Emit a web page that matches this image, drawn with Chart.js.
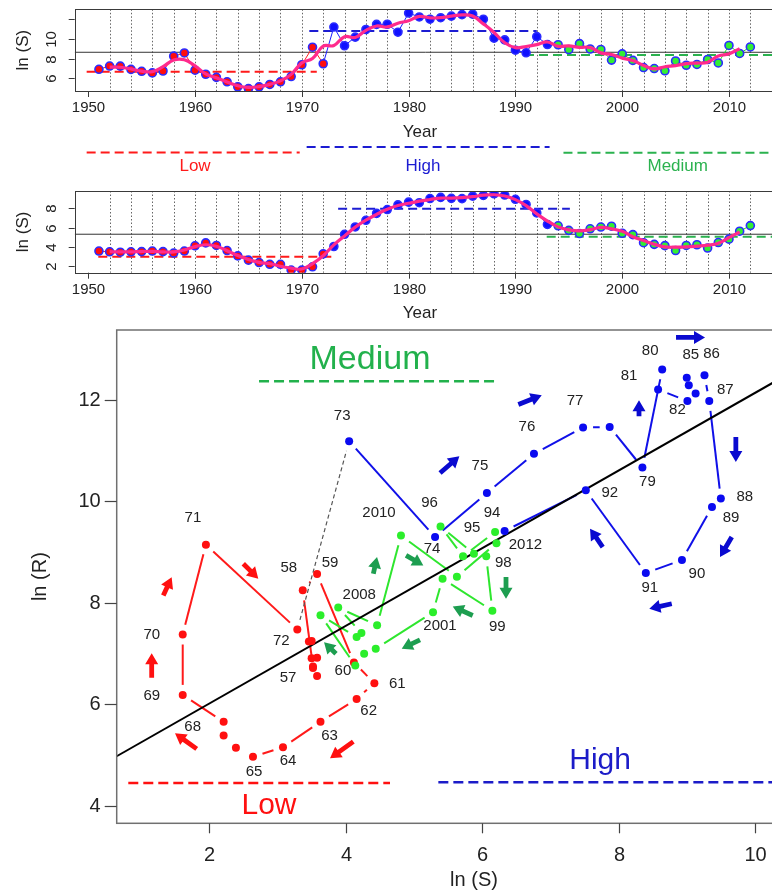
<!DOCTYPE html>
<html>
<head>
<meta charset="utf-8">
<script src="https://cdn.jsdelivr.net/npm/chart.js@4.4.1/dist/chart.umd.min.js"></script>
<style>
  html, body { margin: 0; padding: 0; background: #fff; overflow: hidden; width: 772px; height: 890px; }
  canvas { position: absolute; left: 0; }
</style>
</head>
<body>
<canvas id="recruits" width="800" height="178" style="top:0px"></canvas>
<canvas id="spawners" width="800" height="140" style="top:178px"></canvas>
<canvas id="phase" width="800" height="572" style="top:318px"></canvas>
<script>
// ---------------- data ----------------
const years = [1951,1952,1953,1954,1955,1956,1957,1958,1959,1960,
               1961,1962,1963,1964,1965,1966,1967,1968,1969,1970,
               1971,1972,1973,1974,1975,1976,1977,1978,1979,1980,
               1981,1982,1983,1984,1985,1986,1987,1988,1989,1990,
               1991,1992,1993,1994,1995,1996,1997,1998,1999,2000,
               2001,2002,2003,2004,2005,2006,2007,2008,2009,2010,
               2011,2012];

// ln of spawners
const lnS = [3.58,3.50,3.46,3.50,3.52,3.58,3.52,3.37,3.58,4.12,
             4.42,4.16,3.63,3.08,2.64,2.39,2.21,2.21,1.61,1.61,
             1.95,3.29,4.05,5.31,6.07,6.76,7.48,7.87,8.35,8.64,
             8.58,9.01,9.13,9.03,9.00,9.26,9.33,9.50,9.37,8.93,
             8.40,7.52,6.33,6.19,5.72,5.39,5.88,6.06,6.15,5.42,
             5.28,4.44,4.27,4.14,3.63,4.16,4.23,3.89,4.46,4.81,
             5.63,6.21];

// ln of recruits
const lnR = [6.91,7.24,7.23,6.90,6.71,6.55,6.74,8.24,8.56,6.82,
             6.41,6.10,5.65,5.15,4.96,5.14,5.38,5.65,6.18,7.37,
             9.14,7.47,11.18,9.29,10.16,10.93,11.45,11.46,10.66,12.59,
             12.20,11.97,12.12,12.28,12.43,12.48,11.97,10.05,9.88,8.84,
             8.58,10.21,9.41,9.39,8.91,9.50,8.96,8.91,7.84,8.47,
             7.81,7.09,6.99,6.76,7.75,7.32,7.40,7.90,7.55,9.32,
             8.51,9.17];

// smoothed trends (1952-2011)
const smoothYears = [1952,1953,1954,1955,1956,1957,1958,1959,1960,
                     1961,1962,1963,1964,1965,1966,1967,1968,1969,1970,
                     1971,1972,1973,1974,1975,1976,1977,1978,1979,1980,
                     1981,1982,1983,1984,1985,1986,1987,1988,1989,1990,
                     1991,1992,1993,1994,1995,1996,1997,1998,1999,2000,
                     2001,2002,2003,2004,2005,2006,2007,2008,2009,2010,2011];
const smoothR = [7.13,7.12,6.95,6.72,6.67,7.18,7.85,7.87,7.26,
                 6.44,6.05,5.63,5.25,5.08,5.16,5.39,5.74,6.40,7.56,
                 7.99,9.26,9.31,10.21,10.13,10.85,11.28,11.19,11.57,11.82,
                 12.25,12.10,12.12,12.28,12.40,12.29,11.50,10.63,9.59,9.10,
                 9.21,9.40,9.67,9.24,9.27,9.12,9.12,8.57,8.41,8.04,
                 7.79,7.30,6.95,7.17,7.28,7.49,7.54,7.62,8.26,8.46,9.00];
const smoothS = [3.51,3.49,3.49,3.53,3.54,3.49,3.49,3.69,4.04,
                 4.23,4.07,3.62,3.12,2.70,2.41,2.27,2.01,1.81,1.72,
                 2.28,3.10,4.22,5.14,6.05,6.77,7.37,7.90,8.29,8.52,
                 8.74,8.91,9.06,9.05,9.10,9.20,9.36,9.40,9.27,8.90,
                 8.28,7.42,6.68,6.08,5.77,5.66,5.78,6.03,5.88,5.62,
                 5.05,4.66,4.28,4.01,3.98,4.01,4.09,4.19,4.39,4.97,5.55];

// regimes: Low up to LOW_END, High up to HIGH_END, Medium afterwards
const LOW_END = 1972;
const HIGH_END = 1993;
const regimeMeanR = { low: 6.66, high: 10.78, medium: 8.35 };
const regimeMeanS = { low: 3.00, high: 7.95, medium: 5.07 };
const overallMeanR = 8.63;
const overallMeanS = 5.32;

// stock-recruit fit: ln(R) = a + b ln(S)
const fitA = 4.48;
const fitB = 0.765;

// year labels shown in the phase plot
const labelledYears = [1957,1958,1959,1960,1961,1962,1963,1964,1965,1968,1969,1970,1971,1972,
                       1973,1974,1975,1976,1977,1979,1980,1981,1982,1985,1986,1987,1988,1989,
                       1990,1991,1992,1994,1995,1996,1998,1999,2001,2008,2010,2012];

// tick values
const yearTicks = [1950,1960,1970,1980,1990,2000,2010];
const recruitTicks = [6,8,10,12];
const recruitTickLabels = [6,8,10];
const spawnerTicks = [2,4,6,8];
const phaseXTicks = [2,4,6,8,10];
const phaseYTicks = [4,6,8,10,12];

// ---------------- style & layout ----------------
const FONT = '"Liberation Sans", Arial, Helvetica, sans-serif';
const PINK = '#ff2a8c';
const POINT_FILL = { low: '#ff0d0d', high: '#1010ff', medium: '#33ee33' };
const LINE_COL = { low: '#ff2020', high: '#1a1aff', medium: '#22dd22' };
const DASH_COL = { low: '#ff1a1a', high: '#1c1cd2', medium: '#2bb24f' };
const PHASE_POINT = { low: '#ff1010', high: '#0a0af0', medium: '#2bee2b' };
const PHASE_LINE = { low: '#ff1a1a', high: '#1010e8', medium: '#2ee62e' };
const ARROW_COL = { low: '#ff1010', high: '#0a0ad0', medium: '#1d9e50' };
const TEXT_COL = '#222';

const YEAR_MIN = 1948.73, YEAR_MAX = 2014.45;

// extents (in years) of the dashed regime-mean segments
const recruitSpans = { low: [1949.85, 1971.4], high: [1970.7, 1992.0], medium: [1990.9, YEAR_MAX] };
const spawnerSpans = { low: [1950.94, 1972.94], high: [1973.4, 1995.1], medium: [1992.93, YEAR_MAX] };

// regime band between the two time-series panels
const bandLines = [
  { regime: 'low', from: 1949.85, to: 1969.8, y: 152.5, text: 'Low', at: 1960.0 },
  { regime: 'high', from: 1970.45, to: 1993.2, y: 147.0, text: 'High', at: 1981.35 },
  { regime: 'medium', from: 1994.5, to: YEAR_MAX, y: 152.7, text: 'Medium', at: 2005.2 }
];

// pixel offsets of year labels from their points
const labelOffsets = {
  1957: [-25, 11], 1958: [-14, -22], 1959: [13, -11], 1960: [-11, 8], 1961: [23, 1],
  1962: [12, 12], 1963: [9, 14], 1964: [5, 14], 1965: [1, 15], 1968: [-31, 5],
  1969: [-31, 1], 1970: [-31, 0], 1971: [-13, -27], 1972: [-16, 11], 1973: [-7, -25],
  1974: [-3, 12], 1975: [-7, -27], 1976: [-7, -27], 1977: [-8, -27], 1979: [5, 14],
  1980: [-12, -19], 1981: [-29, -14], 1982: [-10, 9], 1985: [4, -23], 1986: [7, -21],
  1987: [16, -11], 1988: [24, -2], 1989: [19, 11], 1990: [15, 14], 1991: [4, 15],
  1992: [24, 2], 1994: [-3, -19], 1995: [9, -28], 1996: [-11, -24], 1998: [17, 7],
  1999: [5, 16], 2001: [7, 14], 2008: [21, -13], 2010: [-22, -23], 2012: [29, 2]
};

// direction arrows in (ln S, ln R): tail -> head
const arrows = [
  { r: 'low', from: [1.325, 8.14], to: [1.448, 8.50] },
  { r: 'low', from: [1.155, 6.52], to: [1.155, 7.00] },
  { r: 'low', from: [2.498, 8.765], to: [2.718, 8.47] },
  { r: 'low', from: [1.815, 5.116], to: [1.497, 5.424] },
  { r: 'low', from: [4.111, 5.26], to: [3.77, 4.93] },
  { r: 'medium', from: [4.405, 8.568], to: [4.459, 8.895] },
  { r: 'medium', from: [4.884, 8.929], to: [5.138, 8.732] },
  { r: 'medium', from: [6.35, 8.501], to: [6.35, 8.075] },
  { r: 'medium', from: [5.862, 7.745], to: [5.569, 7.923] },
  { r: 'medium', from: [5.089, 7.266], to: [4.821, 7.089] },
  { r: 'medium', from: [3.857, 6.99], to: [3.682, 7.219] },
  { r: 'high', from: [8.843, 13.223], to: [9.268, 13.223] },
  { r: 'high', from: [6.531, 11.901], to: [6.874, 12.085] },
  { r: 'high', from: [5.383, 10.552], to: [5.666, 10.882] },
  { r: 'high', from: [8.30, 11.67], to: [8.30, 11.986] },
  { r: 'high', from: [9.72, 11.262], to: [9.72, 10.769] },
  { r: 'high', from: [9.66, 9.29], to: [9.488, 8.896] },
  { r: 'high', from: [7.768, 9.093], to: [7.582, 9.456] },
  { r: 'high', from: [8.78, 7.976], to: [8.451, 7.878] }
];

// regime legend marks inside the phase plot
const phaseLegend = [
  { r: 'medium', text: 'Medium', line: [2.729, 6.218, 12.36], textAt: [4.356, 12.78], size: 34, color: '#22b14c' },
  { r: 'low', text: 'Low', line: [0.812, 4.649, 4.446], textAt: [2.875, 4.0], size: 30, color: '#ff1010' },
  { r: 'high', text: 'High', line: [5.358, 10.6, 4.458], textAt: [7.73, 4.886], size: 30, color: '#1c1cc8' }
];

function regimeOf(yr) { return yr <= LOW_END ? 'low' : (yr <= HIGH_END ? 'high' : 'medium'); }

const baseOptions = (xMin, xMax, yMin, yMax, padding) => ({
  responsive: false,
  animation: false,
  events: [],
  layout: { padding },
  plugins: { legend: { display: false }, tooltip: { enabled: false } },
  scales: {
    x: { type: 'linear', display: false, min: xMin, max: xMax },
    y: { type: 'linear', display: false, min: yMin, max: yMax }
  }
});

function rotatedText(ctx, text, x, y) {
  ctx.save();
  ctx.translate(x, y);
  ctx.rotate(-Math.PI / 2);
  ctx.textAlign = 'center';
  ctx.textBaseline = 'middle';
  ctx.fillText(text, 0, 0);
  ctx.restore();
}

// ---------------- time-series panels ----------------
function seriesPanel(id, values, smooth, means, overall, spans, yMin, yMax, padding, yTicks, yLabels, drawBand) {
  const pts = years.map((y, i) => ({ x: y, y: values[i] }));
  const datasets = [
    { type: 'line', data: smoothYears.map((y, i) => ({ x: y, y: smooth[i] })),
      borderColor: PINK, borderWidth: 3.2, tension: 0.4, pointRadius: 0, order: 0 },
    { type: 'line', data: pts, borderWidth: 1,
      segment: { borderColor: c => LINE_COL[regimeOf(years[c.p1DataIndex])] },
      pointRadius: 4, pointBackgroundColor: years.map(y => POINT_FILL[regimeOf(y)]),
      pointBorderColor: '#2b2bff', pointBorderWidth: 1.6, order: 1 }
  ];
  ['low', 'high', 'medium'].forEach(r => {
    datasets.push({ type: 'line', data: [{ x: spans[r][0], y: means[r] }, { x: spans[r][1], y: means[r] }],
      borderColor: DASH_COL[r], borderWidth: 2, borderDash: [9, 5], pointRadius: 0, order: 2 });
  });
  datasets.push({ type: 'line', data: [{ x: YEAR_MIN, y: overall }, { x: YEAR_MAX, y: overall }],
    borderColor: '#333', borderWidth: 1, pointRadius: 0, order: 3 });

  const axes = {
    id: 'seriesAxes',
    beforeDatasetsDraw(chart) {
      const { ctx, chartArea: a, scales: { x } } = chart;
      ctx.save();
      ctx.strokeStyle = '#666';
      ctx.lineWidth = 1;
      ctx.setLineDash([1.5, 2]);
      for (let yr = 1952; yr <= 2012; yr += 2) {
        const px = Math.round(x.getPixelForValue(yr)) + 0.5;
        ctx.beginPath(); ctx.moveTo(px, a.top); ctx.lineTo(px, a.bottom); ctx.stroke();
      }
      ctx.restore();
    },
    afterDraw(chart) {
      const { ctx, chartArea: a, scales: { x, y } } = chart;
      ctx.save();
      ctx.strokeStyle = '#3a3a3a';
      ctx.lineWidth = 1;
      ctx.strokeRect(Math.round(a.left) + 0.5, Math.round(a.top) + 0.5, a.right - a.left, Math.round(a.bottom - a.top));
      ctx.fillStyle = '#222';
      ctx.font = '15px ' + FONT;
      ctx.textAlign = 'center';
      ctx.textBaseline = 'middle';
      yearTicks.forEach(t => {
        const px = Math.round(x.getPixelForValue(t)) + 0.5;
        ctx.beginPath(); ctx.moveTo(px, a.bottom); ctx.lineTo(px, a.bottom + 6); ctx.stroke();
        ctx.fillText(String(t), px, a.bottom + 17);
      });
      yTicks.forEach(t => {
        const py = Math.round(y.getPixelForValue(t)) + 0.5;
        ctx.beginPath(); ctx.moveTo(a.left - 6, py); ctx.lineTo(a.left, py); ctx.stroke();
        if (yLabels.includes(t)) rotatedText(ctx, String(t), a.left - 23, py);
      });
      ctx.font = '17px ' + FONT;
      rotatedText(ctx, 'ln (S)', 23, (a.top + a.bottom) / 2);
      ctx.fillText('Year', 420, a.bottom + 41);
      if (drawBand) {
        bandLines.forEach(b => {
          ctx.strokeStyle = DASH_COL[b.regime];
          ctx.lineWidth = 2;
          ctx.setLineDash([9, 5]);
          ctx.beginPath();
          ctx.moveTo(x.getPixelForValue(b.from), b.y);
          ctx.lineTo(x.getPixelForValue(b.to), b.y);
          ctx.stroke();
          ctx.setLineDash([]);
          ctx.fillStyle = DASH_COL[b.regime];
          ctx.font = '17px ' + FONT;
          ctx.fillText(b.text, x.getPixelForValue(b.at), 166);
        });
      }
      ctx.restore();
    }
  };

  return new Chart(document.getElementById(id), {
    type: 'line',
    data: { datasets },
    options: baseOptions(YEAR_MIN, YEAR_MAX, yMin, yMax, padding),
    plugins: [axes]
  });
}

seriesPanel('recruits', lnR, smoothR, regimeMeanR, overallMeanR, recruitSpans, 4.72, 12.97,
  { left: 74.7, top: 9.3, right: 23.5, bottom: 87 }, recruitTicks, recruitTickLabels, true);
seriesPanel('spawners', lnS, smoothS, regimeMeanS, overallMeanS, spawnerSpans, 1.34, 9.79,
  { left: 74.7, top: 13, right: 23.5, bottom: 45.3 }, spawnerTicks, spawnerTicks, false);

// ---------------- phase plot: ln(R) against ln(S) ----------------
const PX_MIN = 0.642, PX_MAX = 10.514, PY_MIN = 3.65, PY_MAX = 13.37;
const SEG_GAP = 10;

function drawArrow(ctx, x1, y1, x2, y2, color) {
  const dx = x2 - x1, dy = y2 - y1, L = Math.hypot(dx, dy);
  const ux = dx / L, uy = dy / L, nx = -uy, ny = ux;
  const head = 11, hw = 6.5, sw = 2.4;
  const bx = x2 - ux * head, by = y2 - uy * head;
  ctx.fillStyle = color;
  ctx.beginPath();
  ctx.moveTo(x1 + nx * sw, y1 + ny * sw);
  ctx.lineTo(bx + nx * sw, by + ny * sw);
  ctx.lineTo(bx + nx * hw, by + ny * hw);
  ctx.lineTo(x2, y2);
  ctx.lineTo(bx - nx * hw, by - ny * hw);
  ctx.lineTo(bx - nx * sw, by - ny * sw);
  ctx.lineTo(x1 - nx * sw, y1 - ny * sw);
  ctx.closePath();
  ctx.fill();
}

const phaseDecor = {
  id: 'phaseDecor',
  beforeDatasetsDraw(chart) {
    const { ctx, scales: { x, y } } = chart;
    ctx.save();
    ctx.lineCap = 'butt';
    for (let i = 0; i < years.length - 1; i++) {
      const a = years[i];
      if (a === HIGH_END) continue;
      const x1 = x.getPixelForValue(lnS[i]), y1 = y.getPixelForValue(lnR[i]);
      const x2 = x.getPixelForValue(lnS[i + 1]), y2 = y.getPixelForValue(lnR[i + 1]);
      const L = Math.hypot(x2 - x1, y2 - y1);
      if (L <= 2 * SEG_GAP) continue;
      const ux = (x2 - x1) / L, uy = (y2 - y1) / L;
      if (a === LOW_END) {
        ctx.strokeStyle = '#555'; ctx.lineWidth = 1.2; ctx.setLineDash([4, 3]);
      } else {
        ctx.strokeStyle = PHASE_LINE[regimeOf(a)]; ctx.lineWidth = 2; ctx.setLineDash([]);
      }
      ctx.beginPath();
      ctx.moveTo(x1 + ux * SEG_GAP, y1 + uy * SEG_GAP);
      ctx.lineTo(x2 - ux * SEG_GAP, y2 - uy * SEG_GAP);
      ctx.stroke();
    }
    ctx.restore();
  },
  afterDatasetsDraw(chart) {
    const { ctx, scales: { x, y } } = chart;
    ctx.save();
    arrows.forEach(ar => drawArrow(ctx,
      x.getPixelForValue(ar.from[0]), y.getPixelForValue(ar.from[1]),
      x.getPixelForValue(ar.to[0]), y.getPixelForValue(ar.to[1]), ARROW_COL[ar.r]));
    ctx.fillStyle = TEXT_COL;
    ctx.font = '15px ' + FONT;
    ctx.textAlign = 'center';
    ctx.textBaseline = 'middle';
    labelledYears.forEach(yr => {
      const i = years.indexOf(yr);
      const off = labelOffsets[yr];
      const text = yr >= 2000 ? String(yr) : String(yr).slice(2);
      ctx.fillText(text, x.getPixelForValue(lnS[i]) + off[0], y.getPixelForValue(lnR[i]) + off[1]);
    });
    phaseLegend.forEach(l => {
      ctx.fillStyle = l.color;
      ctx.font = l.size + 'px ' + FONT;
      ctx.fillText(l.text, x.getPixelForValue(l.textAt[0]), y.getPixelForValue(l.textAt[1]));
    });
    ctx.restore();
  },
  afterDraw(chart) {
    const { ctx, chartArea: a, scales: { x, y } } = chart;
    ctx.save();
    ctx.strokeStyle = '#707070';
    ctx.lineWidth = 1.5;
    ctx.strokeRect(a.left, a.top, a.right - a.left + 20, a.bottom - a.top);
    ctx.fillStyle = '#222';
    ctx.font = '20px ' + FONT;
    ctx.textAlign = 'center';
    ctx.textBaseline = 'middle';
    ctx.lineWidth = 1.2;
    ctx.strokeStyle = '#444';
    phaseXTicks.forEach(t => {
      const px = Math.round(x.getPixelForValue(t)) + 0.5;
      ctx.beginPath(); ctx.moveTo(px, a.bottom); ctx.lineTo(px, a.bottom + 10); ctx.stroke();
      ctx.fillText(String(t), px, a.bottom + 32);
    });
    ctx.textAlign = 'right';
    phaseYTicks.forEach(t => {
      const py = Math.round(y.getPixelForValue(t)) + 0.5;
      ctx.beginPath(); ctx.moveTo(a.left - 12, py); ctx.lineTo(a.left, py); ctx.stroke();
      ctx.fillText(String(t), a.left - 16, py);
    });
    ctx.textAlign = 'center';
    ctx.fillText('ln (S)', 474, a.bottom + 57);
    rotatedText(ctx, 'ln (R)', 40, (a.top + a.bottom) / 2);
    ctx.restore();
  }
};

const phaseDatasets = [
  { type: 'scatter', data: years.map((yr, i) => ({ x: lnS[i], y: lnR[i] })),
    pointRadius: 4, pointBorderWidth: 0,
    pointBackgroundColor: years.map(yr => PHASE_POINT[regimeOf(yr)]), order: 0 },
  { type: 'line', data: [{ x: PX_MIN, y: fitA + fitB * PX_MIN }, { x: PX_MAX, y: fitA + fitB * PX_MAX }],
    borderColor: '#000', borderWidth: 2, pointRadius: 0, order: 1 }
];
phaseLegend.forEach(l => phaseDatasets.push({
  type: 'line', data: [{ x: l.line[0], y: l.line[2] }, { x: l.line[1], y: l.line[2] }],
  borderColor: l.color, borderWidth: 2.5, borderDash: [10, 5], pointRadius: 0, order: 2
}));

new Chart(document.getElementById('phase'), {
  type: 'scatter',
  data: { datasets: phaseDatasets },
  options: baseOptions(PX_MIN, PX_MAX, PY_MIN, PY_MAX, { left: 116.7, top: 12, right: 10, bottom: 66.7 }),
  plugins: [phaseDecor]
});
</script>
</body>
</html>
